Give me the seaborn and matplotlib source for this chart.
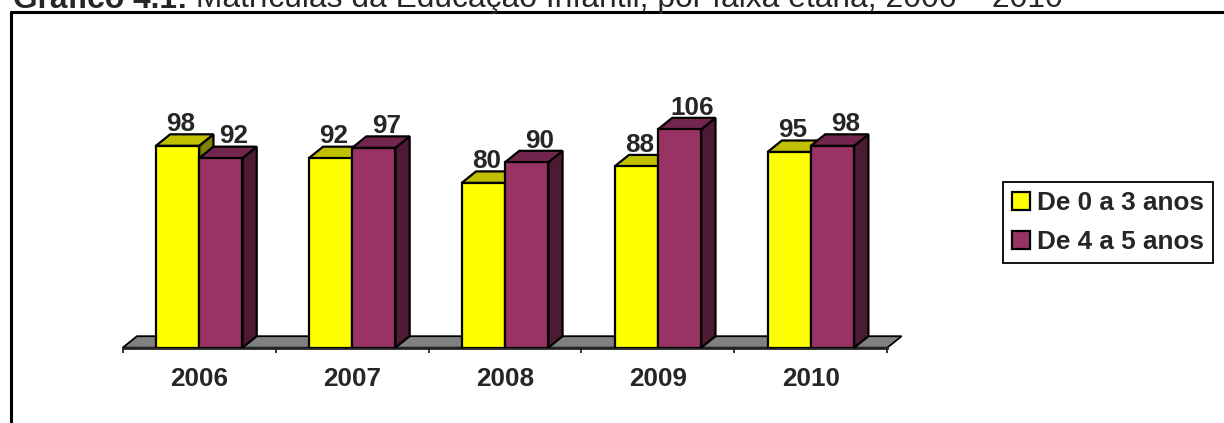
import pandas as pd
import seaborn as sns
import matplotlib
import matplotlib.pyplot as plt
from matplotlib.patches import Polygon
from matplotlib.lines import Line2D

matplotlib.use('Agg')

# dados do grafico
anos = ['2006', '2007', '2008', '2009', '2010']
faixas = ['De 0 a 3 anos', 'De 4 a 5 anos']
de_0_a_3 = [98, 92, 80, 88, 95]
de_4_a_5 = [92, 97, 90, 106, 98]

titulo_bold = 'Gráfico 4.1:'
titulo_resto = ' Matrículas da Educação Infantil, por faixa etária, 2006 – 2010'

cores = ['#FFFF00', '#993366']
cores_topo = ['#C0C000', '#73264D']
cores_lado = ['#808000', '#4D1A33']

W, H = 1224, 423
FS = 18.8


def prepare_df():
    df = pd.DataFrame({
        'ano': anos * 2,
        'faixa': [faixas[0]] * len(anos) + [faixas[1]] * len(anos),
        'matriculas': de_0_a_3 + de_4_a_5,
    })
    return df


sns.set_style('white')
plt.rcParams['font.family'] = ['Liberation Sans', 'DejaVu Sans']

fig = plt.figure(figsize=(W / 100, H / 100), dpi=100)
# posicao do eixo em pixels (medida na imagem)
x_esq, x_dir = 122.7, 887.3
y_base = 347.7
px_por_unid = 2.06
ymax = 115
ax = fig.add_axes([x_esq / W, (H - y_base) / H, (x_dir - x_esq) / W, ymax * px_por_unid / H])

df = prepare_df()
sns.barplot(data=df, x='ano', y='matriculas', hue='faixa', palette=cores,
            width=0.566, gap=0, saturation=1, edgecolor='black', linewidth=1.6,
            legend=False, ax=ax)

ax.set_xlim(-0.5, len(anos) - 0.5)
ax.set_ylim(0, ymax)

px_x = (x_dir - x_esq) / len(anos)
ddx = 14.3 / px_x
ddy = 11.5 / px_por_unid

# chao cinza em perspectiva
chao = Polygon([(-0.5, 0), (len(anos) - 0.5, 0), (len(anos) - 0.5 + ddx, ddy), (-0.5 + ddx, ddy)],
               closed=True, facecolor='#808080', edgecolor='black', lw=1.3, zorder=1, clip_on=False)
ax.add_patch(chao)

desloc_rotulo = [3 / px_x, 13 / px_x]
for s, cont in enumerate(ax.containers):
    for p in cont.patches:
        x, w, h = p.get_x(), p.get_width(), p.get_height()
        p.set_zorder(3 + 2 * s + 1)
        lado = Polygon([(x + w, 0), (x + w + ddx, ddy), (x + w + ddx, h + ddy), (x + w, h)],
                       closed=True, facecolor=cores_lado[s], edgecolor='black', lw=1.6,
                       zorder=3 + 2 * s, clip_on=False)
        topo = Polygon([(x, h), (x + w, h), (x + w + ddx, h + ddy), (x + ddx, h + ddy)],
                       closed=True, facecolor=cores_topo[s], edgecolor='black', lw=1.6,
                       zorder=3 + 2 * s, clip_on=False)
        ax.add_patch(lado)
        ax.add_patch(topo)
        ax.text(x + w / 2 + desloc_rotulo[s], h + ddy + 1.6, f'{h:.0f}', ha='center', va='baseline',
                fontsize=FS, fontweight='bold', zorder=10)

for lado in ['top', 'right', 'left']:
    ax.spines[lado].set_visible(False)
ax.spines['bottom'].set_linewidth(2)
ax.spines['bottom'].set_zorder(2)
ax.set_yticks([])
ax.set_xticks([i - 0.5 for i in range(len(anos) + 1)])
ax.set_xticklabels([])
ax.set_xticks(range(len(anos)), minor=True)
ax.set_xticklabels(anos, minor=True, fontsize=FS, fontweight='bold')
ax.tick_params(axis='x', which='major', direction='out', length=3.8, width=1.3, bottom=True)
ax.tick_params(axis='x', which='minor', length=0, pad=14)
ax.set_xlabel('')
ax.set_ylabel('')
ax.patch.set_alpha(0)

# legenda
handles = [c.patches[0] for c in ax.containers]
leg = fig.legend(handles, faixas, loc='upper left', bbox_to_anchor=(1002.7 / W, 1 - 182.3 / H),
                 frameon=True, fancybox=False, edgecolor='black', framealpha=1, borderaxespad=0,
                 prop={'size': FS, 'weight': 'bold'}, handlelength=0.68, handleheight=0.68,
                 handletextpad=0.28, borderpad=0.35, labelspacing=0.55)
leg.get_frame().set_linewidth(1.3)

# moldura e titulo (cortados na imagem original)
fig.add_artist(Line2D([10.8 / W, 1.05], [1 - 12.5 / H, 1 - 12.5 / H], color='black', lw=2.2,
                      transform=fig.transFigure, clip_on=False))
fig.add_artist(Line2D([10.8 / W, 10.8 / W], [-0.05, 1 - 12.5 / H], color='black', lw=2.2,
                      transform=fig.transFigure, clip_on=False))
t1 = fig.text(12.7 / W, 1 - 7.5 / H, titulo_bold, fontsize=22.9, fontweight='bold', va='baseline')
r = fig.canvas.get_renderer()
bb = t1.get_window_extent(r)
fig.text(bb.x1 / W, 1 - 7.5 / H, titulo_resto, fontsize=22.9, va='baseline')

plt.savefig('out.png', dpi=100)
